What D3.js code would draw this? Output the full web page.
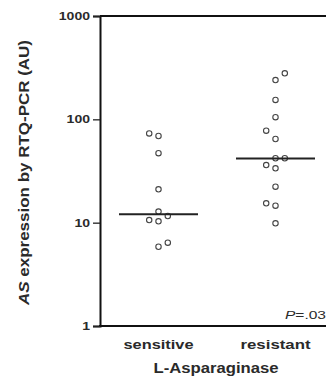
<!DOCTYPE html>
<html><head><meta charset="utf-8">
<script src="https://cdn.jsdelivr.net/npm/d3@7"></script>
<style>html,body{margin:0;padding:0;background:#fff;}svg{display:block;}text{font-family:Arial,"Liberation Sans",sans-serif;fill:#2a2a2a;}</style>
</head><body>
<svg id="chart" width="326" height="378"></svg>
<script>
const categories = ["sensitive", "resistant"];
const sensitiveValues = [73, 69, 47, 21, 12.8, 11.6, 10.6, 10.3, 6.4, 5.85];
const sensitiveOffsets = [-1, 0, 0, 0, 0, 1, -1, 0, 1, 0];
const resistantValues = [279, 240, 154, 105, 77.6, 64.5, 42, 42, 36.1, 33.6, 22.3, 15.4, 14.6, 9.86];
const resistantOffsets = [1, 0, 0, 0, -1, 0, 0, 1, -1, 0, 0, -1, 0, 0];
const medians = [12.05, 41.8];
const yTicks = [1, 10, 100, 1000];
const xTitle = "L-Asparaginase";
const pLabel = ".03";

const svg = d3.select("#chart");
const W = 326;
const x = d3.scalePoint().domain(categories).range([100, 334]).padding(0.5);
const y = d3.scaleLog().domain([1, 1000]).range([326, 16]);
const jitter = 9.3;

// frame lines
svg.append("line").attr("x1", 100).attr("x2", W).attr("y1", y(1000)).attr("y2", y(1000))
  .attr("stroke", "#111").attr("stroke-width", 2);
svg.append("line").attr("x1", 99).attr("x2", W).attr("y1", y(1)).attr("y2", y(1))
  .attr("stroke", "#111").attr("stroke-width", 2);

// y axis
const yAxis = d3.axisLeft(y).tickValues(yTicks).tickFormat(d3.format("d")).tickSize(7).tickPadding(3);
const ga = svg.append("g").attr("transform", "translate(100,0)").call(yAxis);
ga.select(".domain").attr("stroke", "#111").attr("stroke-width", 2);
ga.selectAll(".tick line").attr("stroke", "#222").attr("stroke-width", 1.3);
ga.selectAll(".tick text").attr("font-size", 11).attr("font-weight", "bold").attr("fill", "#2a2a2a")
  .attr("font-family", "Arial, 'Liberation Sans', sans-serif")
  .each(function(d){ d3.select(this).attr("textLength", String(d).length * 7.8).attr("lengthAdjust", "spacingAndGlyphs"); });

// points
const groups = [
  {cat: categories[0], vals: sensitiveValues, offs: sensitiveOffsets},
  {cat: categories[1], vals: resistantValues, offs: resistantOffsets}
];
groups.forEach(g => {
  svg.append("g").selectAll("circle").data(g.vals).join("circle")
    .attr("cx", (d, i) => x(g.cat) + g.offs[i] * jitter)
    .attr("cy", d => y(d))
    .attr("r", 2.7)
    .attr("fill", "#fff").attr("stroke", "#444").attr("stroke-width", 1.1);
});

// medians
svg.append("g").selectAll("line").data(medians).join("line")
  .attr("x1", (d, i) => x(categories[i]) - 39.5)
  .attr("x2", (d, i) => x(categories[i]) + 39.5)
  .attr("y1", d => y(d)).attr("y2", d => y(d))
  .attr("stroke", "#222").attr("stroke-width", 2);

// category labels
svg.append("g").selectAll("text").data(categories).join("text")
  .attr("x", d => x(d)).attr("y", 349).attr("text-anchor", "middle")
  .attr("font-size", 12.5).attr("font-weight", "bold")
  .attr("textLength", 70).attr("lengthAdjust", "spacingAndGlyphs")
  .text(d => d);

// x title
svg.append("text").attr("x", 216).attr("y", 373).attr("text-anchor", "middle")
  .attr("font-size", 14).attr("font-weight", "bold")
  .attr("textLength", 125).attr("lengthAdjust", "spacingAndGlyphs")
  .text(xTitle);

// y title
const yt = svg.append("text").attr("transform", "translate(29,172.5) rotate(-90)")
  .attr("text-anchor", "middle").attr("font-size", 14).attr("font-weight", "bold")
  .attr("textLength", 265).attr("lengthAdjust", "spacingAndGlyphs");
yt.append("tspan").attr("font-style", "italic").text("AS");
yt.append("tspan").text(" expression by RTQ-PCR (AU)");

// p value
const pt = svg.append("text").attr("x", 326).attr("y", 319).attr("text-anchor", "end")
  .attr("font-size", 11.5).attr("textLength", 41).attr("lengthAdjust", "spacingAndGlyphs");
pt.append("tspan").attr("font-style", "italic").text("P");
pt.append("tspan").text("=" + pLabel);
</script>
</body></html>
